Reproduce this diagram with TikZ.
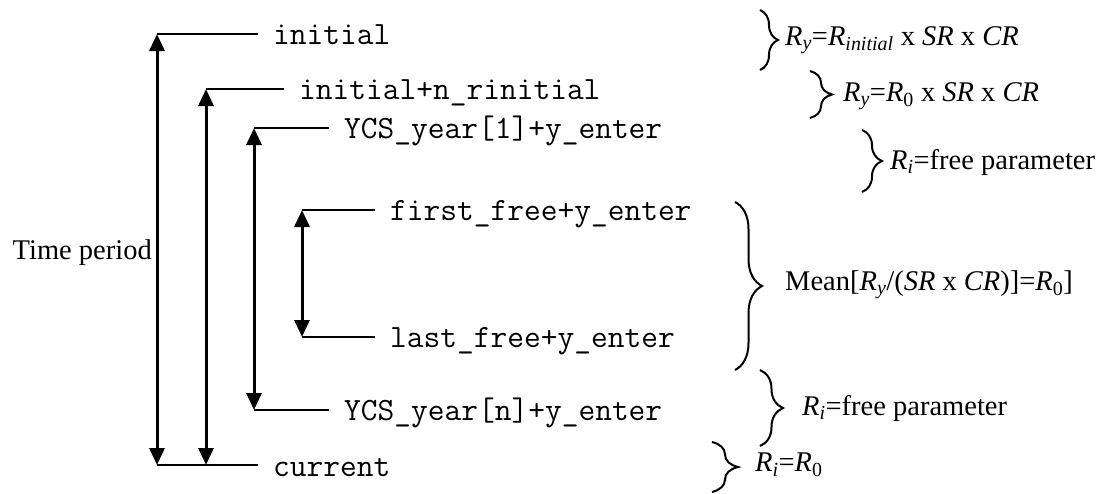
\documentclass[tikz,border=0pt]{standalone}
\usepackage{fontspec}
\setmainfont{Liberation Serif}
\usetikzlibrary{arrows.meta,decorations.pathreplacing}

\newcommand{\sub}[1]{\textsubscript{\textit{#1}}}
\newcommand{\subup}[1]{\textsubscript{#1}}

\begin{document}
\begin{tikzpicture}[x=1pt,y=-1pt,
  span/.style={line width=3pt,{Triangle[width=15pt,length=17pt]}-{Triangle[width=15pt,length=17pt]}},
  tick/.style={line width=2pt},
  lbl/.style={anchor=base west,inner xsep=15pt,inner ysep=0pt,
    font=\ttfamily\fontsize{32.5}{38}\selectfont},
  note/.style={anchor=west,inner sep=0pt,font=\fontsize{28.5}{34}\selectfont},
  curly/.style={line width=2pt,decorate,decoration={brace,amplitude=#1}}]
\useasboundingbox (0,0) rectangle (1115,493);

% arrow end points
\coordinate (a1t) at (157,34);  \coordinate (a1b) at (157,465);
\coordinate (a2t) at (206,89);  \coordinate (a2b) at (206,465);
\coordinate (a3t) at (254,128); \coordinate (a3b) at (254,410);
\coordinate (a4t) at (302,210); \coordinate (a4b) at (302,337);

% year labels (baseline a little below each tick)
\node[lbl] (ini)   at (258,44)  {initial};
\node[lbl] (inin)  at (284,99)  {initial+n\_rinitial};
\node[lbl] (ycs1)  at (329,138) {YCS\_year[1]+y\_enter};
\node[lbl] (ffree) at (375,220) {first\_free+y\_enter};
\node[lbl] (lfree) at (375,347) {last\_free+y\_enter};
\node[lbl] (ycsn)  at (329,420) {YCS\_year[n]+y\_enter};
\node[lbl] (cur)   at (258,476) {current};

\node[note,anchor=east] (tp) at (152,253) {Time period};

% ticks to labels
\draw[tick] (a1t) -- (a1t -| ini.west);
\draw[tick] (a2t) -- (a2t -| inin.west);
\draw[tick] (a3t) -- (a3t -| ycs1.west);
\draw[tick] (a4t) -- (a4t -| ffree.west);
\draw[tick] (a4b) -- (a4b -| lfree.west);
\draw[tick] (a3b) -- (a3b -| ycsn.west);
\draw[tick] (a1b) -- (a1b -| cur.west);

% period arrows
\draw[span] (a1t) -- (a1b);
\draw[span] (a2t) -- (a2b);
\draw[span] (a3t) -- (a3b);
\draw[span] (a4t) -- (a4b);

% braces and their notes
\draw[curly=18pt] (760,10) -- (760,70);
\node[note] (n1) at (785,40) {\textit{R}\sub{y}=\textit{R}\sub{initial} x \textit{SR} x \textit{CR}};

\draw[curly=22pt] (810,71) -- (810,118);
\node[note] (n2) at (843,96) {\textit{R}\sub{y}=\textit{R}\subup{0} x \textit{SR} x \textit{CR}};

\draw[curly=20pt] (862,130) -- (862,192);
\node[note] (n3) at (890,162) {\textit{R}\sub{i}=free parameter};

\draw[curly=27pt] (735,202) -- (735,370);
\node[note] (n4) at (785,285) {Mean[\textit{R}\sub{y}/(\textit{SR} x \textit{CR})]=\textit{R}\subup{0}]};

\draw[curly=23pt] (760,370) -- (760,446);
\node[note] (n5) at (802,408) {\textit{R}\sub{i}=free parameter};

\draw[curly=26pt] (712,442) -- (712,492);
\node[note] (n6) at (755,465) {\textit{R}\sub{i}=\textit{R}\subup{0}};
\end{tikzpicture}
\end{document}
